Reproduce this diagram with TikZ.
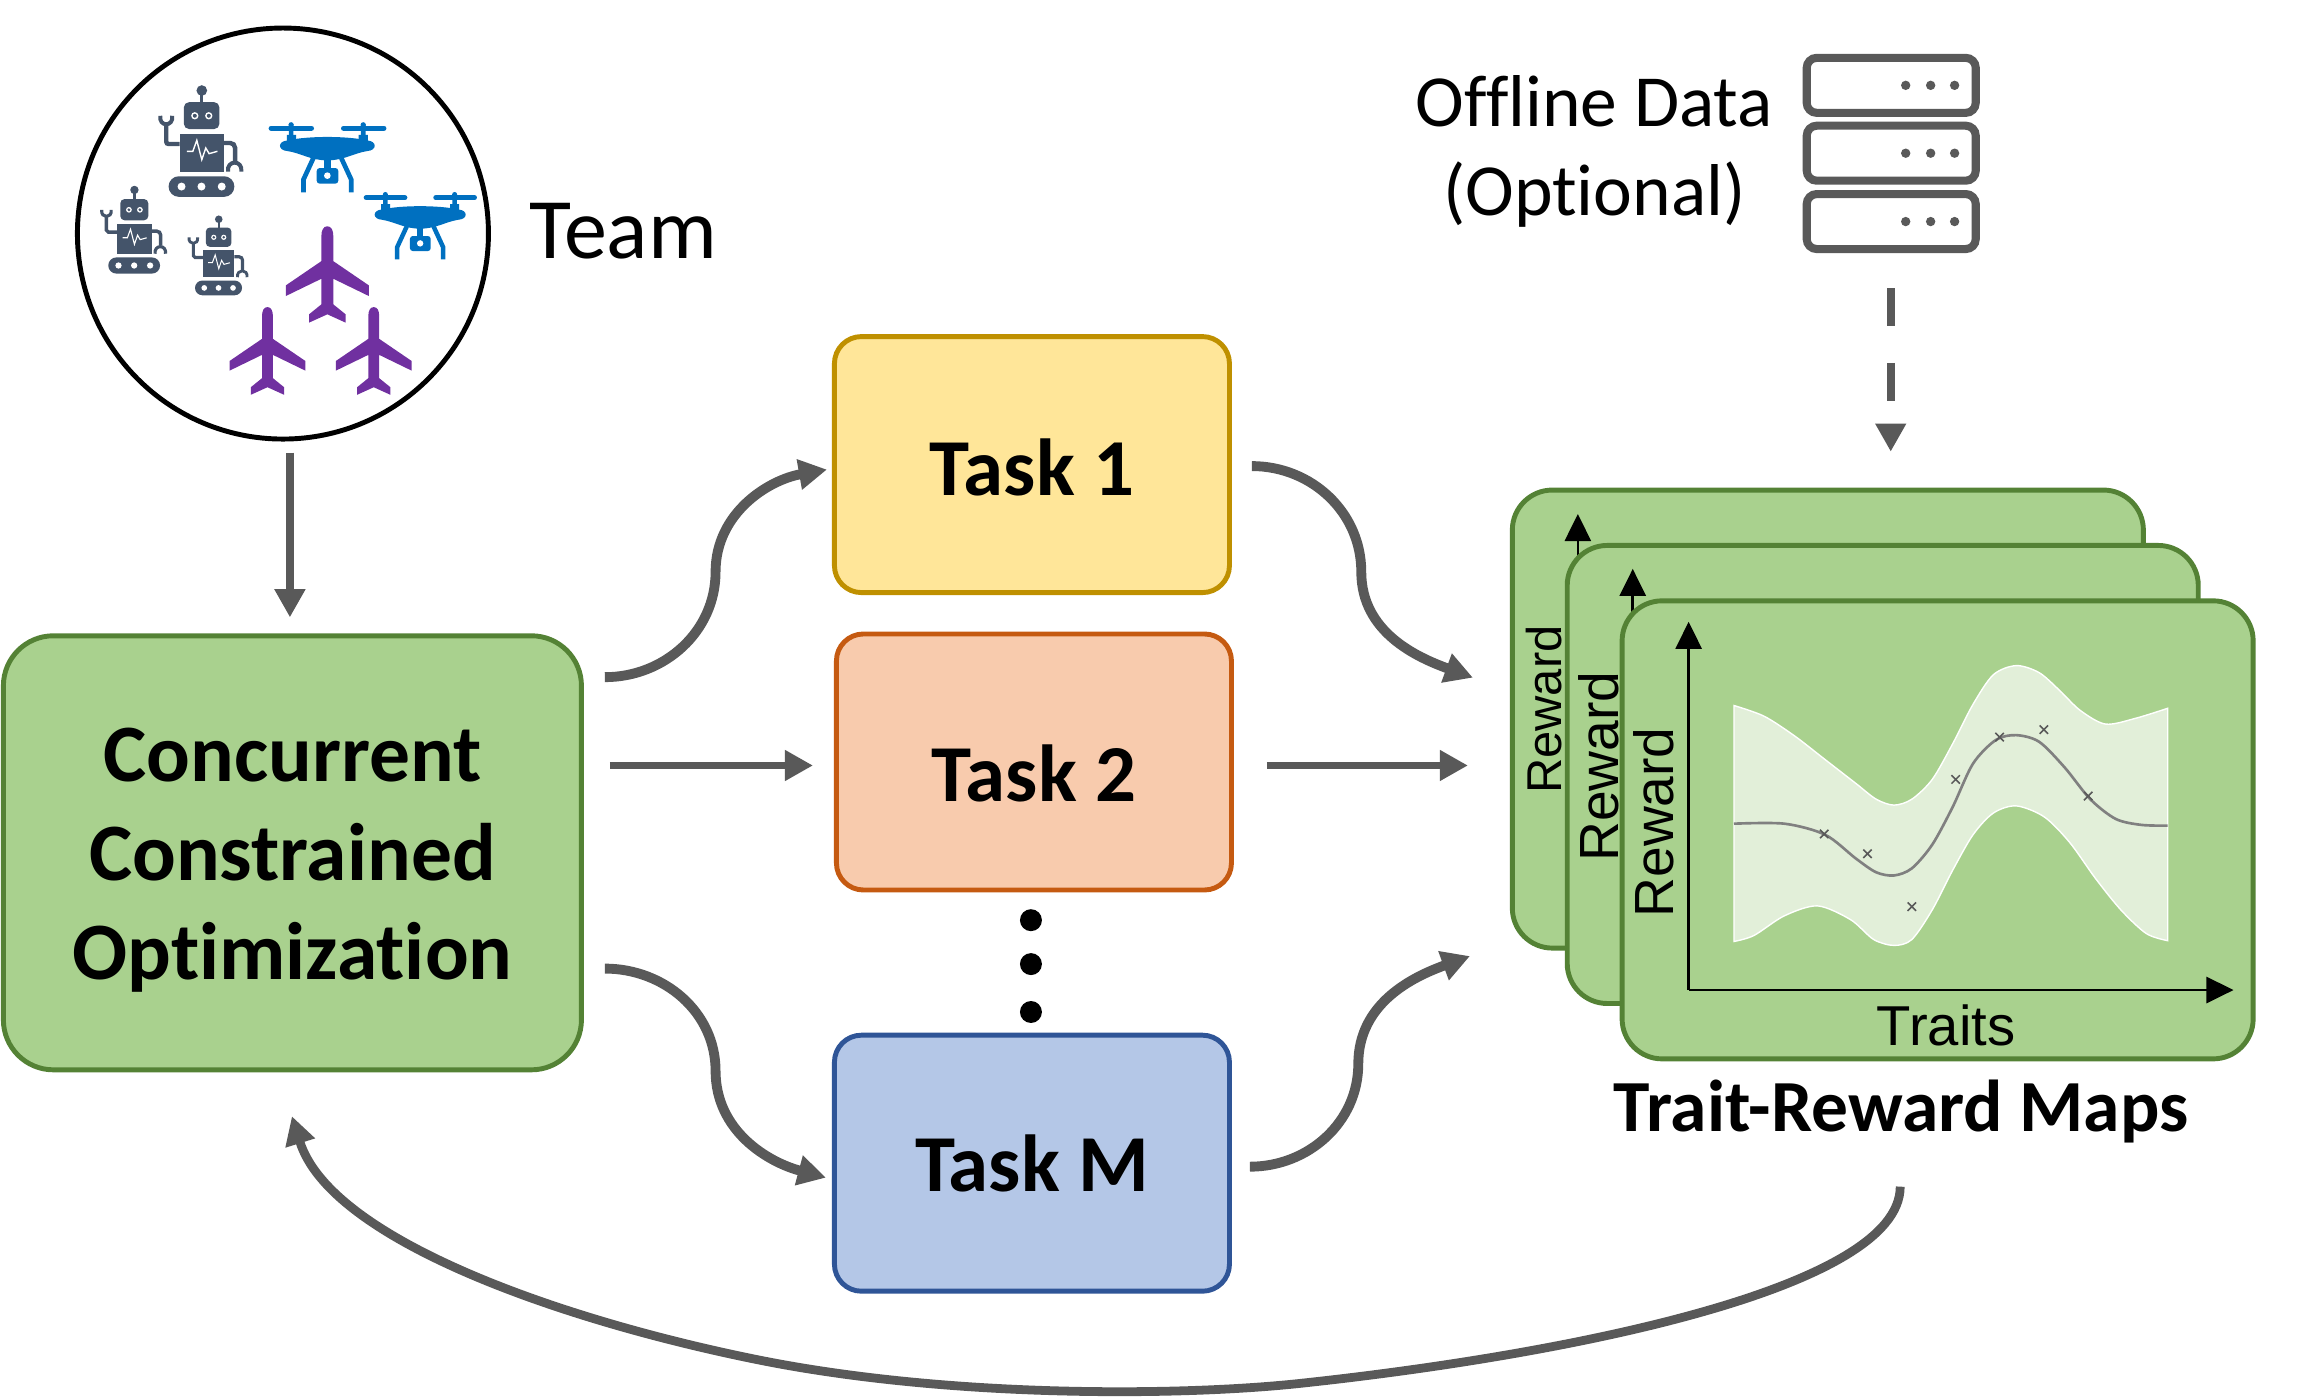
\documentclass[tikz,border=0pt]{standalone}
\usepackage{fontspec}
\setmainfont[Ligatures=NoCommon]{Carlito}
\newfontfamily\chartfont{Liberation Sans}
\usetikzlibrary{arrows.meta}
\definecolor{flowgray}{HTML}{595959}
\definecolor{robotblue}{HTML}{44546A}
\definecolor{dronecol}{HTML}{0070C0}
\definecolor{planecol}{HTML}{7030A0}
\definecolor{greenfill}{HTML}{A9D18E}
\definecolor{greenline}{HTML}{548235}
\definecolor{bandcol}{HTML}{E2EFD9}
\definecolor{taskonefill}{HTML}{FFE699}
\definecolor{taskoneline}{HTML}{BF9000}
\definecolor{tasktwofill}{HTML}{F8CBAD}
\definecolor{tasktwoline}{HTML}{C55A11}
\definecolor{taskmfill}{HTML}{B4C7E7}
\definecolor{taskmline}{HTML}{2F5597}
\tikzset{
  flow/.style={draw=flowgray, line width=2.1pt, -{Triangle[length=8pt,width=8.3pt]}},
  curveflow/.style={flow, line width=2.8pt},
  boxnode/.style={draw, line width=1.4pt, rounded corners=.27cm, minimum width=3.95cm, minimum height=2.56cm, inner sep=0pt, font=\fontsize{23}{28}\selectfont\bfseries},
  mapcard/.style={draw=greenline, fill=greenfill, line width=1.4pt, rounded corners=.4cm, minimum width=6.31cm, minimum height=4.58cm, inner sep=0pt},
  rackbox/.style={draw=flowgray, line width=2.3pt, rounded corners=.1cm, minimum width=1.69cm, minimum height=.55cm, inner sep=0pt},
  axisline/.style={draw=black, line width=.75pt, -{Triangle[length=7.7pt,width=7.4pt]}},
  axislabel/.style={font=\chartfont\fontsize{15.7}{18}\selectfont, inner sep=0pt},
  pics/robot/.style={code={
    \begin{scope}[scale=#1]
      \fill[robotblue] (0,-158) circle (16);
      \fill[robotblue] (-5,-158) rectangle (5,-120);
      \fill[robotblue, rounded corners=#1*4.5pt] (-54,-123) rectangle (53,-42);
      \fill[white] (-21,-82) circle (11) (21,-82) circle (11);
      \fill[robotblue] (-21,-82) circle (6) (21,-82) circle (6);
      \fill[robotblue] (-67,-28) rectangle (66,87);
      \draw[white, line width=#1*1.2pt] (-45,25) -- (-27,25) -- (-15,-8) -- (0,50) -- (12,15) -- (22,32) -- (47,25);
      \draw[robotblue, line width=#1*3.8pt, rounded corners=#1*2pt] (-67,3) -- (-107,3) -- (-107,-58);
      \draw[robotblue, line width=#1*3.4pt] (-125,-82) .. controls (-130,-48) and (-84,-48) .. (-89,-82);
      \draw[robotblue, line width=#1*3.8pt, rounded corners=#1*4pt] (66,0) -- (100,0) -- (100,55);
      \draw[robotblue, line width=#1*3.4pt] (79,86) .. controls (74,50) and (124,50) .. (119,86);
      \fill[robotblue, rounded corners=#1*8.8pt] (-100,100) rectangle (98,162);
      \fill[white] (-61,131) circle (12) (-1,131) circle (12) (60,131) circle (12);
    \end{scope}
  }},
  pics/drone/.style={code={
    \begin{scope}[scale=#1]
      \draw[dronecol, line width=#1*4.5pt, line cap=round] (-169,-85) -- (-48,-85) (49,-85) -- (170,-85);
      \fill[dronecol] (-109,-95) circle (8) (108,-95) circle (8);
      \fill[dronecol] (-116,-95) rectangle (-102,-60) (101,-95) rectangle (115,-60);
      \fill[dronecol] (-122,-65) rectangle (-94,-40) (94,-65) rectangle (122,-40);
      \fill[dronecol] (-120,-48) .. controls (-60,-62) and (60,-62) .. (120,-48) .. controls (150,-46) and (150,-18) .. (120,-16) .. controls (80,-10) and (50,12) .. (0,12) .. controls (-50,12) and (-80,-10) .. (-120,-16) .. controls (-150,-18) and (-150,-46) .. (-120,-48) -- cycle;
      \draw[dronecol, line width=#1*4pt] (-42,5) -- (-72,70) -- (-72,108) (42,5) -- (72,70) -- (72,108);
      \fill[dronecol] (-10,0) rectangle (10,40);
      \fill[dronecol, rounded corners=#1*2.5pt] (-32,35) rectangle (33,82);
      \fill[white] (0,58) circle (10);
    \end{scope}
  }},
  pics/plane/.style={code={
    \begin{scope}[scale=#1]
      \fill[planecol] (0,0) .. controls (12,0) and (18,12) .. (18,30) -- (18,105) -- (125,178) -- (125,210) -- (18,158) -- (18,235) -- (55,265) -- (55,290) -- (0,265) -- (-55,290) -- (-55,265) -- (-18,235) -- (-18,158) -- (-125,210) -- (-125,178) -- (-18,105) -- (-18,30) .. controls (-18,12) and (-12,0) .. (0,0) -- cycle;
    \end{scope}
  }}
}

\begin{document}
\begin{tikzpicture}[x=.00998cm, y=-.00998cm]
  \useasboundingbox (0,0) rectangle (2303.6,1399.8);

  \node[draw=black, line width=1.4pt, circle, minimum size=4.11cm, inner sep=0pt] (team) at (283.5,234) {};
  \pic at (202.2,143.3) {robot=.333};
  \pic at (134.7,231.7) {robot=.262};
  \pic at (219.2,257.3) {robot=.238};
  \pic at (328,156.7) {drone=.333};
  \pic at (421,225.3) {drone=.32};
  \pic at (328,226.7) {plane=.333};
  \pic at (268,307.7) {plane=.303};
  \pic at (374.5,307.7) {plane=.303};
  \node[inner sep=0pt, font=\fontsize{24.5}{28}\selectfont] (teamlabel) at (624.5,232) {Team};

  \node[boxnode, fill=greenfill, draw=greenline, rounded corners=.5cm, minimum width=5.78cm, minimum height=4.34cm, align=center, font=\fontsize{23.2}{28.2}\selectfont\bfseries] (cco) at (293,854.5) {\rule{0pt}{19.5pt}Concurrent\\Constrained\\Optimization};

  \node[boxnode, fill=taskonefill, draw=taskoneline, text height=17.7pt] (task1) at (1034,465.5) {Task 1};
  \node[boxnode, fill=tasktwofill, draw=tasktwoline, text height=22.4pt] (task2) at (1036,763.5) {Task 2};
  \node[boxnode, fill=taskmfill, draw=taskmline] (taskm) at (1034,1165.5) {Task M};
  \fill[black] (1033,922) circle (11) (1033,966) circle (11) (1033,1014) circle (11);

  \node[align=center, inner sep=0pt, font=\fontsize{20.9}{25.3}\selectfont] (offline) at (1597.5,152) {Offline Data\\(Optional)};
  \node[rackbox] (racka) at (1895,85.5) {};
  \node[rackbox] (rackb) at (1895,153.5) {};
  \node[rackbox] (rackc) at (1895,222) {};
  \foreach \y in {85.5,153.5,222}
    \foreach \x in {1909.5,1934.5,1958.5}
      \fill[flowgray] (\x,\y) circle (4.7);

  \node[mapcard] (back) at (1831.5,720.5) {};
  \draw[axisline] (1581,620) -- (1581,515);
  \node[axislabel, rotate=90, font=\chartfont\fontsize{13.9}{16}\selectfont] (rewarda) at (1547,711) {Reward};
  \node[mapcard] (middle) at (1886.5,776) {};
  \draw[axisline] (1636,640) -- (1636,570);
  \node[axislabel, rotate=90] (rewardb) at (1602,768) {Reward};
  \node[mapcard] (front) at (1941.5,831.5) {};
  \node[axislabel, rotate=90] (rewardc) at (1657,824) {Reward};
  \node[axislabel, font=\chartfont\fontsize{16}{18}\selectfont] (traits) at (1950,1027) {Traits};

  \begin{scope}[shift={(1502,480)}, x=.0051cm, y=-.003945cm]
    \fill[bandcol, draw=white, line width=.4pt] plot[smooth] coordinates {(461,573) (520,600) (580,650) (640,710) (700,770) (740,810) (775,825) (810,810) (850,760) (890,670) (930,570) (970,495) (1015,472) (1060,490) (1100,535) (1140,585) (1190,620) (1250,605) (1312,580)}
      -- plot[smooth] coordinates {(1312,1168) (1270,1150) (1220,1090) (1170,1010) (1120,920) (1070,855) (1015,827) (970,845) (930,900) (890,990) (850,1090) (810,1165) (775,1180) (735,1165) (690,1115) (625,1080) (560,1105) (500,1155) (461,1170)} -- cycle;
    \draw[gray, line width=.75pt] plot[smooth] coordinates {(461,872) (560,872) (640,900) (700,960) (740,995) (775,1003) (810,985) (850,925) (890,830) (930,720) (975,660) (1015,648) (1060,665) (1110,730) (1160,810) (1210,860) (1260,875) (1312,877)};
    \foreach \x/\y in {638/898,723/948,810/1082,896/760,982/653,1069/634,1156/802}
      \draw[black!65, line width=.45pt] (\x,\y) +(-1.2pt,-1.2pt) -- +(1.2pt,1.2pt) +(-1.2pt,1.2pt) -- +(1.2pt,-1.2pt);
  \end{scope}
  \coordinate (origin) at (1692,992);
  \draw[axisline] (origin) -- (origin |- 0,623);
  \draw[axisline] (origin) -- (origin -| 2238,0);
  \node[inner sep=0pt, font=\fontsize{20.9}{25}\selectfont\bfseries] (maptitle) at (1905,1114) {Trait-Reward Maps};

  \coordinate (midone) at (717,573);
  \coordinate (midtwo) at (717,1073);
  \coordinate (midthree) at (1364,573);
  \coordinate (midfour) at (1361,1066);
  \coordinate (lowright) at (1304,1386);
  \coordinate (lowleft) at (762,1363);

  \draw[flow] ([shift={(7,11)}]team.south) -- ([shift={(-2.5,-16)}]cco.north);
  \draw[curveflow] ([shift={(21,-176)}]cco.east) to[out=0, in=-90] (midone) to[out=90, in=190] ([shift={(-5,5)}]task1.west);
  \draw[flow] ([shift={(26,-87.5)}]cco.east) -- ([shift={(-21,3.5)}]task2.west);
  \draw[curveflow] ([shift={(21,116)}]cco.east) to[out=0, in=90] (midtwo) to[out=-90, in=165] ([shift={(-6,14.5)}]taskm.west);
  \draw[curveflow] ([shift={(20,1.5)}]task1.east) to[out=0, in=90] (midthree) to[out=-90, in=160] ([shift={(-37,-41.5)}]back.west);
  \draw[flow] ([shift={(33,3.5)}]task2.east) -- ([shift={(-42,46.5)}]back.west);
  \draw[curveflow] ([shift={(18,3.5)}]taskm.east) to[out=0, in=-90] (midfour) to[out=90, in=200] ([shift={(-40,237.5)}]back.west);
  \draw[flow, line width=2.2pt, dash pattern=on 10.8pt off 10.5pt] ([shift={(-.5,35)}]rackc.south) -- ([shift={(63,-36)}]back.north);
  \draw[flow, line width=2.5pt] ([shift={(-1,75)}]maptitle.center) .. controls (1904,1292) and (1565,1358) .. (lowright) .. controls (1184,1399) and (953,1401) .. (lowleft) .. controls (562,1323) and (331,1242) .. ([shift={(-.5,44)}]cco.south);
\end{tikzpicture}
\end{document}
